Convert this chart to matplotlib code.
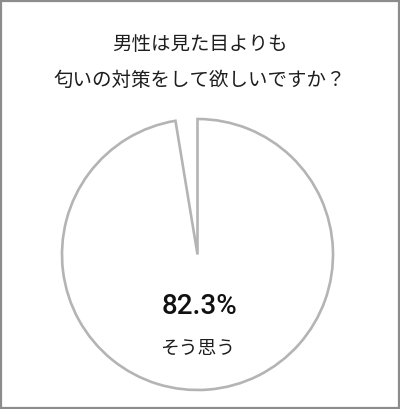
import matplotlib.pyplot as plt
from matplotlib.patches import Rectangle

# data
title_lines = ["男性は見た目よりも", "匂いの対策をして欲しいですか？"]
labels = ["そう思う", "その他"]
shares = [97.4, 2.6]          # wedge sizes as drawn
shown_pct = 82.3              # value printed in the chart

W, H = 400, 409
plt.rcParams['font.family'] = ['Noto Sans CJK JP', 'DejaVu Sans']

fig = plt.figure(figsize=(W / 100, H / 100), dpi=100)
ax = fig.add_axes([0, 0, 1, 1])

wedges, _ = ax.pie(shares, center=(197.5, H - 254.5), radius=135.5,
                   startangle=90, counterclock=False, frame=True,
                   wedgeprops=dict(facecolor="white", edgecolor="#b4b4b4",
                                   linewidth=1.9, joinstyle="miter"))
# the small slice is left blank
wedges[1].set_edgecolor("none")
wedges[1].set_facecolor("none")
ax.set_xlim(0, W)
ax.set_ylim(0, H)
ax.axis("off")

ax.text(W / 2, H - 45, title_lines[0], ha="center", va="center",
        fontsize=14, color="#1e1e1e")
ax.text(W / 2, H - 80, title_lines[1], ha="center", va="center",
        fontsize=14, color="#1e1e1e")

ax.text(199, H - 307, f"{shown_pct}%", ha="center", va="center",
        fontsize=20, family=["Roboto", "DejaVu Sans"], weight="medium",
        color="#111111")
ax.text(198, H - 348, labels[0], ha="center", va="center",
        fontsize=13.5, color="#1e1e1e")

# grey frame round the picture
fig.patches.append(Rectangle((0.0025, 0.0025), 0.995, 0.995,
                             transform=fig.transFigure, fill=False,
                             edgecolor="#8c8c8c", linewidth=1.6))

fig.savefig("out.png", dpi=100)
